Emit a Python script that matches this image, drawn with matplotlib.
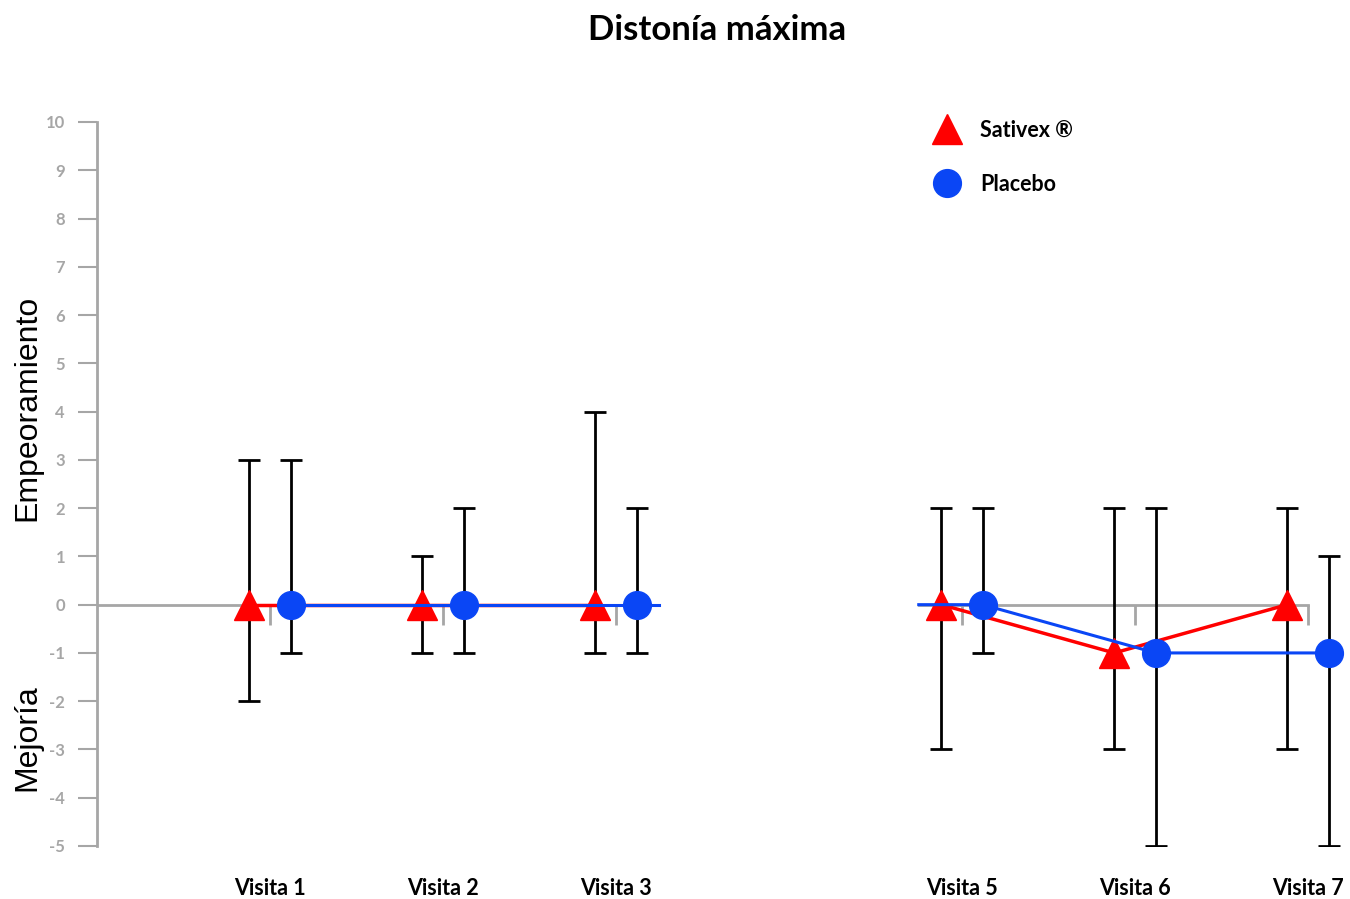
import matplotlib.pyplot as plt
from matplotlib.lines import Line2D

visitas = ['Visita 1', 'Visita 2', 'Visita 3', 'Visita 5', 'Visita 6', 'Visita 7']
pos = [1, 2, 3, 5, 6, 7]

sativex = [0, 0, 0, 0, -1, 0]
sativex_hi = [3, 1, 4, 2, 2, 2]
sativex_lo = [-2, -1, -1, -3, -3, -3]

placebo = [0, 0, 0, 0, -1, -1]
placebo_hi = [3, 2, 2, 2, 2, 1]
placebo_lo = [-1, -1, -1, -1, -5, -5]

yticks = list(range(-5, 11))

ROJO = '#ff0000'
AZUL = '#0a46f5'
GRIS = '#a6a6a6'
off = 0.12
corte = (3.25, 4.75)  # hueco donde no hay visita 4

fig = plt.figure(figsize=(13.5, 8.99), dpi=100)
ax = fig.add_axes([97 / 1350, 1 - 846 / 899, 1 - 97 / 1350, (846 - 122) / 899])
ax.set_xlim(0, (1350 - 97) / 173)
ax.set_ylim(-5, 10)

for s in ['top', 'right', 'bottom']:
    ax.spines[s].set_visible(False)
ax.spines['left'].set_color(GRIS)
ax.spines['left'].set_linewidth(2)
ax.set_yticks(yticks)
ax.set_yticklabels([str(v) for v in yticks], color=GRIS, fontsize=12,
                   fontweight='bold', family='Lato')
ax.tick_params(axis='y', length=14, width=1.5, color=GRIS, pad=9)
ax.set_xticks([])

# eje de categorías en y=0, partido en dos tramos
ax.plot([0, corte[0]], [0, 0], color=GRIS, lw=2, zorder=1)
ax.plot([corte[1], 7], [0, 0], color=GRIS, lw=2, zorder=1)
ax.vlines(pos, -0.42, 0, color=GRIS, lw=2, zorder=1)
for p, lab in zip(pos, visitas):
    ax.text(p, -5.88, lab, ha='center', va='center', fontsize=15.5,
            fontweight='bold', family='Lato')

g1 = slice(0, 3)
g2 = slice(3, 6)
xs = [p - off for p in pos]
xp = [p + off for p in pos]

# Sativex
ax.errorbar(xs, sativex,
            yerr=[[a - b for a, b in zip(sativex, sativex_lo)],
                  [b - a for a, b in zip(sativex, sativex_hi)]],
            fmt='none', ecolor='black', elinewidth=2, capsize=8, capthick=2, zorder=2)
for g in (g1, g2):
    ax.plot(xs[g], sativex[g], color=ROJO, lw=2.5, zorder=3)
ax.plot(xs, sativex, ls='none', marker='^', ms=22, color=ROJO, zorder=3)

# Placebo
ax.errorbar(xp, placebo,
            yerr=[[a - b for a, b in zip(placebo, placebo_lo)],
                  [b - a for a, b in zip(placebo, placebo_hi)]],
            fmt='none', ecolor='black', elinewidth=2, capsize=8, capthick=2, zorder=4)
ax.plot(xp[g1] + [corte[0]], placebo[g1] + [placebo[2]], color=AZUL, lw=2.2, zorder=5)
ax.plot([corte[1]] + xp[g2], [placebo[3]] + placebo[g2], color=AZUL, lw=2.2, zorder=5)
ax.plot(xp, placebo, ls='none', marker='o', ms=20, color=AZUL, zorder=6)

handles = [Line2D([], [], ls='none', marker='^', ms=22, color=ROJO),
           Line2D([], [], ls='none', marker='o', ms=20, color=AZUL)]
leg = ax.legend(handles, ['Sativex ®', 'Placebo'], loc='upper left',
                frameon=False, labelspacing=1.55, handletextpad=0.55,
                prop={'family': 'Lato', 'weight': 'bold', 'size': 15.5})
leg.set_bbox_to_anchor((906 / 1350, 1 - 100 / 899), transform=fig.transFigure)

fig.text(717 / 1350, 1 - 30 / 899, 'Distonía máxima', ha='center', va='center',
         fontsize=25, fontweight='bold', family='Lato')
fig.text(27 / 1350, 1 - 408 / 899, 'Empeoramiento', rotation=90, ha='center',
         va='center', fontsize=23, family='Liberation Sans')
fig.text(27 / 1350, 1 - 738 / 899, 'Mejoría', rotation=90, ha='center',
         va='center', fontsize=23, family='Liberation Sans')

fig.savefig('out.png', dpi=100)
